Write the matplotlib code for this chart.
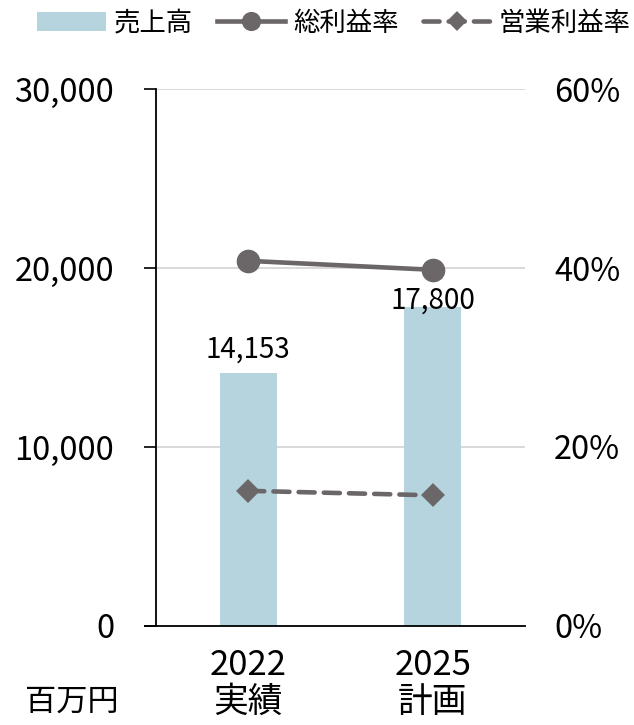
import numpy as np
import matplotlib
matplotlib.use("Agg")
import matplotlib.pyplot as plt
from matplotlib.ticker import FuncFormatter

plt.rcParams["font.family"] = ["Noto Sans CJK JP", "DejaVu Sans"]

# ---------- data ----------
years = ["2022\n実績", "2025\n計画"]
sales = [14153, 17800]            # 売上高 (百万円)
gross_margin = [40.8, 39.8]       # 総利益率 (%)
op_margin = [15.1, 14.6]          # 営業利益率 (%)

# ---------- style ----------
col_bar = "#b5d4dd"
col_line = "#6b6667"
grid_col = "#d9d9d9"

fig = plt.figure(figsize=(6.34, 7.25), dpi=100)
ax = fig.add_axes([0.246, 0.1366, 0.582, 0.7406])
ax2 = ax.twinx()

x = np.arange(len(years))
bars = ax.bar(x, sales, width=0.31, color=col_bar, label="売上高", zorder=2)

ax.set_xlim(-0.5, 1.5)
ax.set_ylim(0, 30000)
ax.set_yticks([0, 10000, 20000, 30000])
ax.yaxis.set_major_formatter(FuncFormatter(lambda v, _p: f"{v:,.0f}"))
ax.tick_params(axis="y", labelsize=23.5, length=9, width=1.2, pad=21, direction="out")
ax.set_xticks(x)
ax.set_xticklabels(years, fontsize=25, linespacing=1.08)
ax.tick_params(axis="x", length=0, pad=16)
ax.grid(True, axis="y", color=grid_col, linewidth=1.4, zorder=0)
for s in ("top", "right"):
    ax.spines[s].set_visible(False)
ax.spines["left"].set_linewidth(1.3)
ax.spines["bottom"].set_linewidth(1.3)
ax.spines["bottom"].set_bounds(-0.56, 1.5)

# bar value labels
offsets = [6, -6]
for b, v, off in zip(bars, sales, offsets):
    ax.annotate(f"{v:,}", (b.get_x() + b.get_width() / 2, v),
                xytext=(0, off), textcoords="offset points",
                ha="center", va="bottom", fontsize=20, zorder=5)

# margins on the right axis
ax2.set_ylim(0, 60)
ax2.set_yticks([0, 20, 40, 60])
ax2.yaxis.set_major_formatter(FuncFormatter(lambda v, _p: f"{v:.0f}%"))
ax2.tick_params(axis="y", labelsize=23.5, length=0, pad=21)
for s in ("top", "right", "left", "bottom"):
    ax2.spines[s].set_visible(False)

ln1, = ax2.plot(x, gross_margin, color=col_line, linewidth=3.3, marker="o",
                markersize=16, label="総利益率", zorder=4)
ln2, = ax2.plot(x, op_margin, color=col_line, linewidth=3.3, linestyle=(0, (3.5, 2)),
                dash_capstyle="round", marker="D", markersize=9,
                markeredgewidth=3, markeredgecolor=col_line,
                label="営業利益率", zorder=4)

fig.text(0.04, 0.032, "百万円", fontsize=22.5, ha="left", va="center")

fig.legend(handles=[bars, ln1, ln2], loc="center", bbox_to_anchor=(0.527, 0.968),
           ncol=3, frameon=False, fontsize=19, handlelength=2.6,
           handletextpad=0.3, columnspacing=0.9, borderaxespad=0, markerscale=0.8)

fig.savefig("out.png", dpi=100)
